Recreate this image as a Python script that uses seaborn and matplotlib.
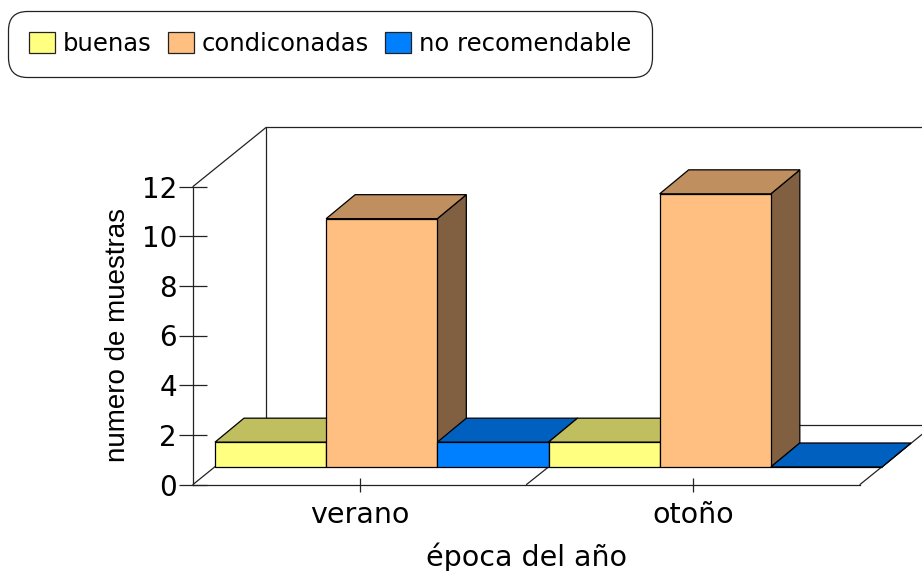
import matplotlib
matplotlib.use("Agg")
import matplotlib.pyplot as plt
import matplotlib.transforms as mtrans
from matplotlib.colors import to_rgb
from matplotlib.lines import Line2D
from matplotlib.patches import Polygon
import pandas as pd
import seaborn as sns

# Data
epocas = ["verano", "otoño"]
buenas = [1, 1]
condicionadas = [10, 11]
no_recomendable = [1, 0]
y_ticks = [0, 2, 4, 6, 8, 10, 12]
series_names = ["buenas", "condiconadas", "no recomendable"]
series_colors = ["#FFFF80", "#FFBF80", "#0080FF"]

rows = []
for name, vals in zip(series_names, [buenas, condicionadas, no_recomendable]):
    for e, v in zip(epocas, vals):
        rows.append({"epoca": e, "serie": name, "n": v})
df = pd.DataFrame(rows)

sns.set_theme(style="white")
plt.rcParams["font.family"] = ["DejaVu Sans"]

W, H = 922, 571
fig = plt.figure(figsize=(W / 100, H / 100), dpi=100, facecolor="white")
ax = fig.add_axes([193 / W, (H - 484.5) / H, 667 / W, 298 / H])
ax.patch.set_alpha(0)

sns.barplot(data=df, x="epoca", y="n", hue="serie", order=epocas,
            hue_order=series_names, palette=dict(zip(series_names, series_colors)),
            width=1, gap=0, saturation=1, errorbar=None,
            edgecolor="black", linewidth=0.9, ax=ax)
ax.set_xlim(-0.5, 1.5)
ax.set_ylim(0, 12)
ax.set_yticks(y_ticks)
sns.despine(ax=ax)
for s in ("left", "bottom"):
    ax.spines[s].set_linewidth(0.9)
    ax.spines[s].set_color("#222222")

ax.tick_params(axis="y", which="major", left=True, direction="inout", length=20,
               width=0.9, color="#222222", labelsize=20, pad=1.5, labelcolor="black")
ax.tick_params(axis="x", which="major", bottom=True, direction="inout", length=9.5,
               width=0.9, color="#222222", labelsize=20.5, pad=7, labelcolor="black")
ax.set_xlabel("época del año", fontsize=20.5, color="black", labelpad=10)
ax.set_ylabel("numero de muestras", fontsize=20, color="black", labelpad=8,
              family="Liberation Sans")

# Oblique projection, in display pixels
fig.canvas.draw()
WALL = (73, 59)
BAR_FRONT = (22, 17.5)
BAR_BACK = (51, 41.5)
to_px = ax.transData.transform


def px_line(pts):
    xs, ys = zip(*pts)
    ln = Line2D(xs, ys, transform=mtrans.IdentityTransform(), color="#222222",
                lw=0.9, zorder=1)
    ax.add_artist(ln)
    ln.set_clip_on(False)


def shifted(p, off):
    return (p[0] + off[0], p[1] + off[1])


x_l, x_r = ax.get_xlim()
bl, br = to_px((x_l, 0)), to_px((x_r, 0))
tl, tr = to_px((x_l, 12)), to_px((x_r, 12))
px_line([tl, shifted(tl, WALL), shifted(tr, WALL)])
px_line([bl, shifted(bl, WALL), shifted(br, WALL), br])
px_line([shifted(bl, WALL), shifted(tl, WALL)])
mid = to_px((0.5, 0))
px_line([mid, shifted(mid, BAR_FRONT)])

# Move bars onto the floor and add their top and side faces
shift = mtrans.Affine2D().translate(*BAR_FRONT)
for s_idx, container in enumerate(ax.containers):
    base = to_rgb(series_colors[s_idx])
    top_col = tuple(c * 0.75 for c in base)
    side_col = tuple(c * 0.5 for c in base)
    for c_idx, bar in enumerate(container):
        z = 2 + c_idx * 10 + s_idx * 2
        x0, x1 = bar.get_x(), bar.get_x() + bar.get_width()
        h = bar.get_height()
        a, b = to_px((x0, h)), to_px((x1, h))
        c = to_px((x1, 0))
        top = [shifted(a, BAR_FRONT), shifted(b, BAR_FRONT),
               shifted(b, BAR_BACK), shifted(a, BAR_BACK)]
        side = [shifted(c, BAR_FRONT), shifted(b, BAR_FRONT),
                shifted(b, BAR_BACK), shifted(c, BAR_BACK)]
        for pts, col in ((side, side_col), (top, top_col)):
            ax.add_patch(Polygon(pts, closed=True, facecolor=col, edgecolor="black",
                                 linewidth=0.9, transform=mtrans.IdentityTransform(),
                                 clip_on=False, zorder=z))
        bar.set_transform(ax.transData + shift)
        bar.set_clip_on(False)
        bar.set_zorder(z + 1)

# Legend
sns.move_legend(ax, loc="upper left", bbox_to_anchor=(8 / W, 1 - 11 / H),
                bbox_transform=fig.transFigure, ncol=3, title=None, frameon=True,
                fontsize=17.5, handlelength=1.07, handleheight=0.9, handletextpad=0.33,
                columnspacing=0.66, borderpad=0.86, borderaxespad=0, labelcolor="black")
leg = ax.get_legend()
leg.set_zorder(100)
frame = leg.get_frame()
frame.set_boxstyle("round", pad=0, rounding_size=0.8)
frame.set_edgecolor("#222222")
frame.set_linewidth(0.9)
frame.set_facecolor("white")
frame.set_alpha(1)
for h in leg.legend_handles:
    h.set_edgecolor("#222222")
    h.set_linewidth(0.9)

fig.savefig("out.png", dpi=100, facecolor="white")
